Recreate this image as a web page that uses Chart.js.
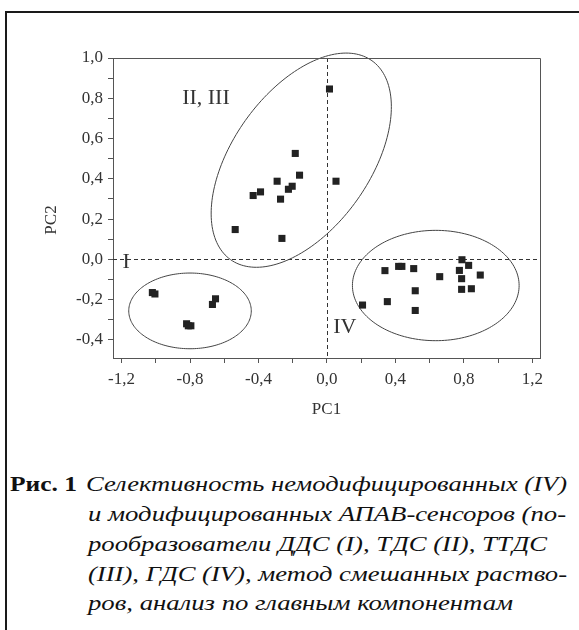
<!DOCTYPE html>
<html>
<head>
<meta charset="utf-8">
<script src="https://cdn.jsdelivr.net/npm/chart.js@4"></script>
<style>
  body { margin: 0; background: #fff; width: 579px; height: 630px; overflow: hidden; position: relative; }
  #frame { position: absolute; left: 5px; top: 11px; width: 700px; height: 700px;
           border-left: 2px solid #1a1a1a; border-top: 2px solid #1a1a1a; }
  #chartBox { position: absolute; left: 0; top: 0; width: 579px; height: 430px; }
  .cap { position: absolute; font-family: 'Liberation Serif', 'Times New Roman', serif; font-size: 22px;
         line-height: 30px; white-space: nowrap; color: #111; transform-origin: 0 50%; }
  .cap.b { font-weight: bold; }
  .cap.i { font-style: italic; }
</style>
</head>
<body>
<div id="frame"></div>
<div id="chartBox"><canvas id="pcaChart" width="579" height="430"></canvas></div>

<div class="cap b" data-l="10" data-r="77" style="top:469px">Рис. 1</div>
<div class="cap i" data-l="86" data-r="567" style="top:469px">Селективность немодифицированных (IV)</div>
<div class="cap i" data-l="88" data-r="566" style="top:499px">и модифицированных АПАВ-сенсоров (по-</div>
<div class="cap i" data-l="88" data-r="547" style="top:529px">рообразователи ДДС (I), ТДС (II), ТТДС</div>
<div class="cap i" data-l="88" data-r="567" style="top:559px">(III), ГДС (IV), метод смешанных раство-</div>
<div class="cap i" data-l="88" data-r="513" style="top:588px">ров, анализ по главным компонентам</div>

<script>
// data (PC1, PC2 scores)
const groupI_pc1 = [-1.02, -1.005, -0.82, -0.795, -0.81, -0.651, -0.669];
const groupI_pc2 = [-0.165, -0.172, -0.32, -0.33, -0.33, -0.196, -0.224];

const groupII_pc1 = [0.015, -0.185, -0.160, 0.053, -0.291, -0.203, -0.225, -0.388, -0.431, -0.271, -0.536, -0.263];
const groupII_pc2 = [0.846, 0.526, 0.418, 0.388, 0.388, 0.363, 0.348, 0.335, 0.317, 0.299, 0.148, 0.104];

const groupIV_pc1 = [0.789, 0.828, 0.774, 0.896, 0.787, 0.787, 0.844, 0.659, 0.507, 0.419, 0.438, 0.339, 0.516, 0.353, 0.516, 0.208];
const groupIV_pc2 = [-0.002, -0.030, -0.055, -0.078, -0.096, -0.149, -0.146, -0.086, -0.046, -0.035, -0.035, -0.056, -0.156, -0.210, -0.254, -0.227];

const xTicks = [-1.2, -1.0, -0.8, -0.6, -0.4, -0.2, 0, 0.2, 0.4, 0.6, 0.8, 1.0, 1.2];
const xTickLabels = ['-1,2', '', '-0,8', '', '-0,4', '', '0,0', '', '0,4', '', '0,8', '', '1,2'];
const yTicks = [-0.4, -0.3, -0.2, -0.1, 0, 0.1, 0.2, 0.3, 0.4, 0.5, 0.6, 0.7, 0.8, 0.9, 1.0];
const yTickLabels = ['-0,4', '', '-0,2', '', '0,0', '', '0,2', '', '0,4', '', '0,6', '', '0,8', '', '1,0'];

// confidence ellipses: centre + two conjugate semi-diameters, in data units
const ellipses = [
    { c: [-0.80, -0.256], u: [0.358, 0], v: [0, 0.188] },
    { c: [-0.150, 0.4925], u: [0.413, 0.494], v: [0.3265, -0.1974] },
    { c: [0.636, -0.13], u: [0.487, 0], v: [0, 0.274] }
];
const groupLabels = [
    { text: 'II, III', x: -0.846, y: 0.80 },
    { text: 'I', x: -1.194, y: -0.015 },
    { text: 'IV', x: 0.037, y: -0.338 }
];

function toPoints(xs, ys) {
    return xs.map((x, i) => ({ x: x, y: ys[i] }));
}

const ink = '#222';
const axisColor = '#555';
const serif = "'Liberation Serif', 'Times New Roman', serif";

const overlay = {
    id: 'overlay',
    beforeDatasetsDraw(chart) {
        const c = chart.ctx;
        const xs = chart.scales.x, ys = chart.scales.y;
        const a = chart.chartArea;
        c.save();
        // dashed zero lines
        c.strokeStyle = '#333';
        c.lineWidth = 1;
        c.setLineDash([4, 3]);
        c.beginPath();
        const x0 = Math.round(xs.getPixelForValue(0)) + 0.5;
        const y0 = Math.round(ys.getPixelForValue(0)) + 0.5;
        c.moveTo(x0, a.top);
        c.lineTo(x0, a.bottom);
        c.moveTo(a.left, y0);
        c.lineTo(a.right, y0);
        c.stroke();
        c.setLineDash([]);

        // ellipses
        c.strokeStyle = '#444';
        ellipses.forEach(e => {
            c.beginPath();
            for (let k = 0; k <= 180; k++) {
                const t = k / 180 * Math.PI * 2;
                const dx = e.c[0] + e.u[0] * Math.cos(t) + e.v[0] * Math.sin(t);
                const dy = e.c[1] + e.u[1] * Math.cos(t) + e.v[1] * Math.sin(t);
                const px = xs.getPixelForValue(dx), py = ys.getPixelForValue(dy);
                if (k === 0) c.moveTo(px, py); else c.lineTo(px, py);
            }
            c.stroke();
        });

        // group labels
        c.fillStyle = '#333';
        c.font = '22px ' + serif;
        c.textBaseline = 'middle';
        c.textAlign = 'left';
        groupLabels.forEach(g => {
            c.fillText(g.text, xs.getPixelForValue(g.x), ys.getPixelForValue(g.y));
        });
        c.restore();
    },
    afterDraw(chart) {
        const c = chart.ctx;
        const a = chart.chartArea;
        c.save();
        c.strokeStyle = axisColor;
        c.lineWidth = 1;
        c.beginPath();
        c.moveTo(a.left, a.top + 0.5);
        c.lineTo(a.right + 0.5, a.top + 0.5);
        c.lineTo(a.right + 0.5, a.bottom);
        c.stroke();

        // axis titles
        c.fillStyle = '#333';
        c.font = '17px ' + serif;
        c.textAlign = 'center';
        c.textBaseline = 'middle';
        c.fillText('PC1', (a.left + a.right) / 2, 410);
        c.translate(52, 220);
        c.rotate(-Math.PI / 2);
        c.fillText('PC2', 0, 0);
        c.restore();
    }
};

const pointStyle = {
    backgroundColor: ink,
    borderColor: ink,
    borderWidth: 0,
    pointStyle: 'rect',
    pointRadius: 5,
    showLine: false
};

new Chart(document.getElementById('pcaChart'), {
    type: 'scatter',
    data: {
        datasets: [
            Object.assign({ label: 'I', data: toPoints(groupI_pc1, groupI_pc2) }, pointStyle),
            Object.assign({ label: 'II, III', data: toPoints(groupII_pc1, groupII_pc2) }, pointStyle),
            Object.assign({ label: 'IV', data: toPoints(groupIV_pc1, groupIV_pc2) }, pointStyle)
        ]
    },
    options: {
        responsive: false,
        animation: false,
        layout: { padding: { top: 58, right: 39, bottom: 0, left: 0 } },
        plugins: {
            legend: { display: false },
            tooltip: { enabled: false }
        },
        scales: {
            x: {
                type: 'linear',
                min: -1.25,
                max: 1.245,
                afterBuildTicks: s => { s.ticks = xTicks.map(v => ({ value: v })); },
                afterFit: s => { s.height = 72; },
                border: { display: true, color: axisColor, width: 1 },
                grid: { drawOnChartArea: false, drawTicks: true, tickLength: 5, tickColor: axisColor },
                ticks: {
                    autoSkip: false,
                    maxRotation: 0,
                    padding: 6,
                    color: '#333',
                    font: { family: serif, size: 17 },
                    callback: (v, i) => xTickLabels[i]
                }
            },
            y: {
                type: 'linear',
                min: -0.49,
                max: 1.0,
                afterBuildTicks: s => { s.ticks = yTicks.map(v => ({ value: v })); },
                afterFit: s => { s.width = 113; },
                border: { display: true, color: axisColor, width: 1 },
                grid: { drawOnChartArea: false, drawTicks: true, tickLength: 5, tickColor: axisColor },
                ticks: {
                    autoSkip: false,
                    padding: 5,
                    color: '#333',
                    font: { family: serif, size: 17 },
                    callback: (v, i) => yTickLabels[i]
                }
            }
        }
    },
    plugins: [overlay]
});

// stretch caption lines to the widths in the figure
document.querySelectorAll('.cap').forEach(el => {
    const l = +el.dataset.l, r = +el.dataset.r;
    el.style.left = l + 'px';
    const w = el.getBoundingClientRect().width;
    el.style.transform = 'scaleX(' + ((r - l) / w).toFixed(3) + ')';
});
</script>
</body>
</html>
